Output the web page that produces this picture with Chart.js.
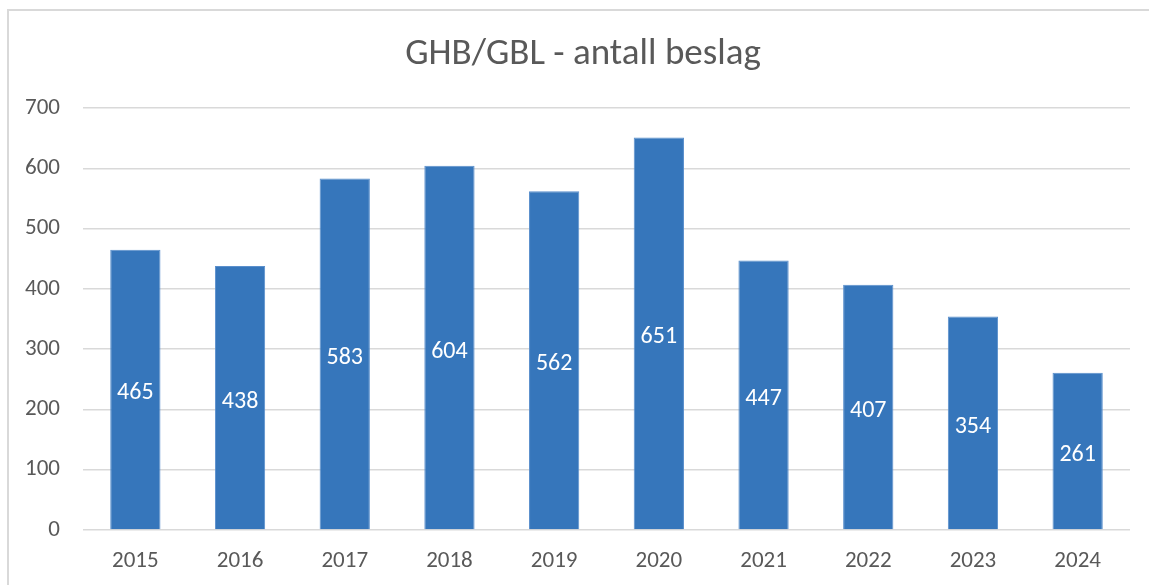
<!DOCTYPE html>
<html>
<head>
<meta charset="utf-8">
<script src="https://cdn.jsdelivr.net/npm/chart.js@4"></script>
<style>
  html, body { margin: 0; padding: 0; background: #fff; }
  #wrap { position: absolute; left: 0; top: 0; width: 1149px; height: 585px; }
</style>
</head>
<body>
<div id="wrap"><canvas id="chart" width="1149" height="585"></canvas></div>
<script>
// ------------------------------------
// DATA
// ------------------------------------
const years = ["2015", "2016", "2017", "2018", "2019", "2020", "2021", "2022", "2023", "2024"];
const seizures = [465, 438, 583, 604, 562, 651, 447, 407, 354, 261];
const yTicks = [0, 100, 200, 300, 400, 500, 600, 700];
const chartTitle = "GHB/GBL - antall beslag";

const FONT = "Carlito, Calibri, Lato, 'Open Sans', sans-serif";
const GREY = "#595959";
const BAR = "#3676BB";

// ------------------------------------
// PLUGINS: outer frame, title, value labels
// ------------------------------------
const framePlugin = {
    id: "frame",
    beforeDraw(chart) {
        const ctx = chart.ctx;
        ctx.save();
        ctx.strokeStyle = "#d9d9d9";
        ctx.lineWidth = 2;
        ctx.strokeRect(8, 10, 1160, 620);

        // title, centred on the frame rather than the canvas
        ctx.fillStyle = GREY;
        ctx.font = "37px " + FONT;
        ctx.textAlign = "center";
        ctx.textBaseline = "middle";
        ctx.fillText(chartTitle, 583, 55);
        ctx.restore();
    }
};

const valueLabels = {
    id: "valueLabels",
    afterDatasetsDraw(chart) {
        const ctx = chart.ctx;
        const meta = chart.getDatasetMeta(0);
        ctx.save();
        ctx.fillStyle = "#ffffff";
        ctx.font = "24px " + FONT;
        ctx.textAlign = "center";
        ctx.textBaseline = "middle";
        meta.data.forEach((bar, i) => {
            const mid = (bar.y + bar.base) / 2;
            ctx.fillText(String(seizures[i]), bar.x, mid + 4);
        });
        ctx.restore();
    }
};

// ------------------------------------
// CHART
// ------------------------------------
new Chart(document.getElementById("chart"), {
    type: "bar",
    data: {
        labels: years,
        datasets: [{
            data: seizures,
            backgroundColor: BAR,
            borderColor: "#5a8fcc",
            borderWidth: 1,
            barPercentage: 0.48,
            categoryPercentage: 1.0
        }]
    },
    options: {
        responsive: false,
        animation: false,
        devicePixelRatio: 1,
        layout: { padding: { left: 0, right: 19, top: 108, bottom: 0 } },
        plugins: {
            legend: { display: false },
            tooltip: { enabled: false },
            title: { display: false }
        },
        scales: {
            x: {
                grid: { display: false, drawTicks: false },
                border: { display: false },
                ticks: { color: GREY, font: { family: FONT, size: 23 }, padding: 17 },
                afterFit(s) { s.height = 55; }
            },
            y: {
                min: 0,
                max: 700,
                afterBuildTicks(s) { s.ticks = yTicks.map(v => ({ value: v })); },
                grid: { color: "#d9d9d9", lineWidth: 1.5, drawTicks: false },
                border: { display: false },
                ticks: { color: GREY, font: { family: FONT, size: 23 }, padding: 23 },
                afterFit(s) { s.width = 83; }
            }
        }
    },
    plugins: [framePlugin, valueLabels]
});
</script>
</body>
</html>
